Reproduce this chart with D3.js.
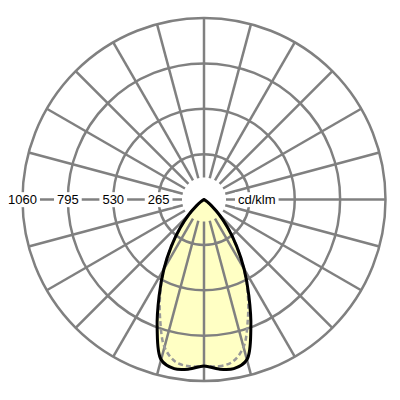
<!DOCTYPE html>
<html>
<head>
<meta charset="utf-8">
<script src="https://cdn.jsdelivr.net/npm/d3@7"></script>
<style>
  body { margin: 0; background: #fff; }
  text { font-family: "Liberation Sans", Arial, sans-serif; font-size: 13px; fill: #000; }
</style>
</head>
<body>
<div id="chart"></div>
<script>
// gamma angles (deg from nadir) and intensities in cd/klm
var gammas = [0, 5, 10, 15, 20, 25, 30, 35, 40, 45, 50, 55, 60, 65, 70];
var c0c180 = [972, 994, 1003, 968, 800, 620, 468, 332, 216, 128, 58, 22, 8, 3, 0];
var c90c270 = [972, 978, 962, 892, 748, 605, 466, 330, 215, 127, 58, 22, 8, 3, 0];

var ringTicks = [265, 530, 795, 1060];
var unitLabel = "cd/klm";
var spokeStep = 15;

var svgWidth = 400, svgHeight = 400;
var cx = 204, cy = 199.5;
var outerR = 181.5, innerR = 22;

var svg = d3.select("#chart")
  .append("svg")
  .attr("width", svgWidth)
  .attr("height", svgHeight);

var g = svg.append("g")
  .attr("transform", `translate(${cx}, ${cy})`);

var rScale = d3.scaleLinear()
  .domain([0, 1060])
  .range([0, outerR]);

var rad = Math.PI / 180;

// closed outline: right half going up, left half coming back down
function outline(values) {
  var pts = [];
  gammas.forEach((gm, i) => pts.push([Math.PI - gm * rad, rScale(values[i])]));
  for (var i = gammas.length - 2; i > 0; i--) {
    pts.push([Math.PI + gammas[i] * rad, rScale(values[i])]);
  }
  return pts;
}

var line = d3.lineRadial()
  .angle(d => d[0])
  .radius(d => d[1])
  .curve(d3.curveCatmullRomClosed.alpha(0.5));

// fill under the grid
g.append("path")
  .attr("d", line(outline(c0c180)))
  .attr("fill", "#ffffc4")
  .attr("stroke", "none");

// rings
g.selectAll(".ring")
  .data(ringTicks)
  .enter()
  .append("circle")
  .attr("r", d => rScale(d))
  .attr("fill", "none")
  .attr("stroke", "#808080")
  .attr("stroke-width", 2.5);

// spokes
var spokes = d3.range(0, 360, spokeStep);
g.selectAll(".spoke")
  .data(spokes)
  .enter()
  .append("line")
  .attr("x1", d => innerR * Math.cos(d * rad))
  .attr("y1", d => innerR * Math.sin(d * rad))
  .attr("x2", d => outerR * Math.cos(d * rad))
  .attr("y2", d => outerR * Math.sin(d * rad))
  .attr("stroke", "#808080")
  .attr("stroke-width", 2.5);

// labels with white background
function addLabel(x, txt, anchor) {
  var t = g.append("text")
    .attr("x", x)
    .attr("y", 0)
    .attr("dy", "0.36em")
    .attr("text-anchor", anchor)
    .text(txt);
  var bb = t.node().getBBox();
  g.insert("rect", function() { return t.node(); })
    .attr("x", bb.x - 3)
    .attr("y", bb.y)
    .attr("width", bb.width + 6)
    .attr("height", bb.height)
    .attr("fill", "#fff");
}

ringTicks.forEach(d => addLabel(-rScale(d), String(d), "middle"));
addLabel(34, unitLabel, "start");

// C90-C270 dashed
g.append("path")
  .attr("d", line(outline(c90c270)))
  .attr("fill", "none")
  .attr("stroke", "#999")
  .attr("stroke-width", 2.5)
  .attr("stroke-dasharray", "5,3");

// C0-C180 solid
g.append("path")
  .attr("d", line(outline(c0c180)))
  .attr("fill", "none")
  .attr("stroke", "#000")
  .attr("stroke-width", 3)
  .attr("stroke-linejoin", "round");
</script>
</body>
</html>
